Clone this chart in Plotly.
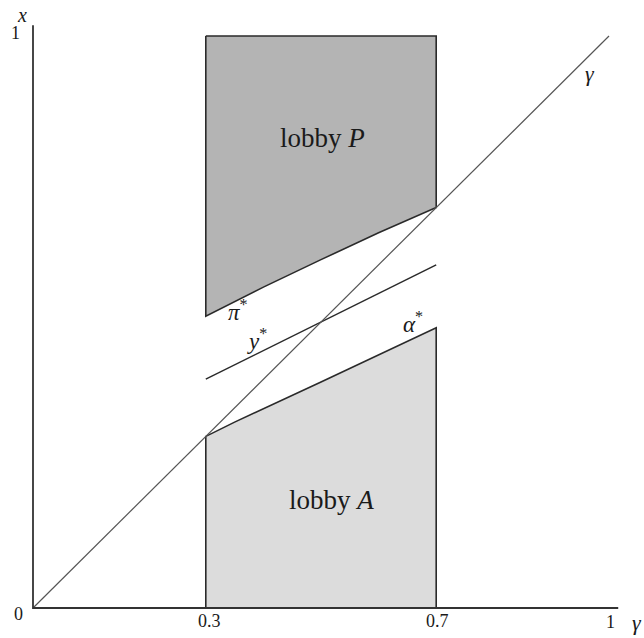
import plotly.graph_objects as go

# ---- data ----
gamma_lo = 0.3
gamma_hi = 0.7
pi_x = [0.3, 0.4, 0.5, 0.6, 0.7]
pi_y = [0.51, 0.561, 0.609, 0.656, 0.70]
alpha_x = [0.3, 0.35, 0.5, 0.7]
alpha_y = [0.30, 0.325, 0.395, 0.49]
ystar_x = [0.3, 0.7]
ystar_y = [0.40, 0.60]
diag_x = [0, 1]
diag_y = [0, 1]
xticks = [0, 0.3, 0.7, 1]
xtick_labels = ["0", "0.3", "0.7", "1"]

FONT = "Liberation Serif"
LINE = "#2a2a2a"

fig = go.Figure()

# lobby P polygon
px = [gamma_lo, gamma_hi] + pi_x[::-1] + [gamma_lo]
py = [1, 1] + pi_y[::-1] + [1]
fig.add_trace(go.Scatter(x=px, y=py, mode="lines", fill="toself",
                         fillcolor="#b4b4b4", line=dict(color=LINE, width=1.6),
                         hoverinfo="skip"))
# lobby A polygon
ax_ = [gamma_lo] + alpha_x + [gamma_hi, gamma_lo]
ay_ = [0] + alpha_y + [0, 0]
fig.add_trace(go.Scatter(x=ax_, y=ay_, mode="lines", fill="toself",
                         fillcolor="#dcdcdc", line=dict(color=LINE, width=1.6),
                         hoverinfo="skip"))
# y* line
fig.add_trace(go.Scatter(x=ystar_x, y=ystar_y, mode="lines",
                         line=dict(color=LINE, width=1.5), hoverinfo="skip"))
# diagonal
fig.add_trace(go.Scatter(x=diag_x, y=diag_y, mode="lines",
                         line=dict(color="#555555", width=1.2), hoverinfo="skip"))
# axes
fig.add_trace(go.Scatter(x=[0, 0, 1.016], y=[1.019, 0, 0], mode="lines",
                         line=dict(color="#333333", width=1.8), hoverinfo="skip"))

def ann(x, y, text, size=17, xanchor="center"):
    fig.add_annotation(x=x, y=y, text=text, showarrow=False, xanchor=xanchor,
                       font=dict(family=FONT, size=size, color="#1a1a1a"))

# tick labels
ann(-0.026, -0.010, xtick_labels[0], 18)
ann(xticks[1] + 0.007, -0.022, xtick_labels[1], 18)
ann(xticks[2] + 0.002, -0.022, xtick_labels[2], 18)
ann(xticks[3] + 0.002, -0.024, xtick_labels[3], 18)
ann(-0.031, 1.005, "1", 18)
ann(-0.019, 1.037, "<i>x</i>", 20)
ann(1.049, -0.026, "<i>γ</i>", 22)
ann(0.967, 0.935, "<i>γ</i>", 22)
ann(0.503, 0.822, "lobby <i>P</i>", 27)
ann(0.519, 0.189, "lobby <i>A</i>", 27)
ann(0.356, 0.520, "<i>π</i><sup>*</sup>", 23)
ann(0.389, 0.469, "<i>y</i><sup>*</sup>", 23)
ann(0.660, 0.499, "<i>α</i><sup>*</sup>", 23)

W, H = 644, 638
xmin = -33 / 576
ymax = 608 / 572
fig.update_layout(
    width=W, height=H,
    margin=dict(l=0, r=0, t=0, b=0),
    plot_bgcolor="white", paper_bgcolor="white",
    showlegend=False,
    xaxis=dict(range=[xmin, xmin + W / 576], visible=False, fixedrange=True),
    yaxis=dict(range=[ymax - H / 572, ymax], visible=False, fixedrange=True),
)
fig.write_html("out.html", config={"displayModeBar": False},
               post_script="document.body.style.margin='0';document.body.style.overflow='hidden';")
